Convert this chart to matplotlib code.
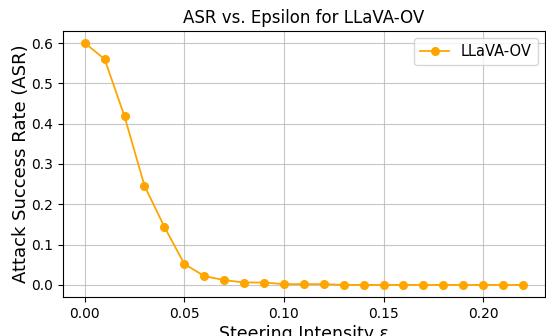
import numpy as np
import matplotlib.pyplot as plt

#-------------------------------------------------------------------------------------------------

epsilons = [0.00, 0.01, 0.02, 0.03, 0.04, 0.05, 0.06, 0.07, 0.08, 0.09, 0.10, 0.11,
            0.12, 0.13, 0.14, 0.15, 0.16, 0.17, 0.18, 0.19, 0.20, 0.21, 0.22]
asr = [0.600, 0.560, 0.418, 0.246, 0.144, 0.052, 0.022, 0.012, 0.006, 0.006, 0.002, 0.002,
       0.002, 0.000, 0.000, 0.000, 0.000, 0.000, 0.000, 0.000, 0.000, 0.000, 0.000]
modelName = "LLaVA-OV"

#-------------------------------------------------------------------------------------------------

fig = plt.figure(figsize=(5.46, 3.36), dpi=100)
ax = fig.add_axes([0.115, 0.116, 0.883, 0.792])

ax.plot(epsilons, asr, marker='o', markersize=5.5, linewidth=1.3, color='orange', label=modelName)

ax.set_title('ASR vs. Epsilon for ' + modelName, fontsize=12)
ax.set_xlabel('Steering Intensity ε', fontsize=12.5, labelpad=3)
ax.set_ylabel('Attack Success Rate (ASR)', fontsize=13, labelpad=1)
ax.tick_params(labelsize=10)
ax.grid(True, alpha=0.7)
ax.legend(loc='upper right', fontsize=10.5)

fig.savefig('out.png', dpi=100)
